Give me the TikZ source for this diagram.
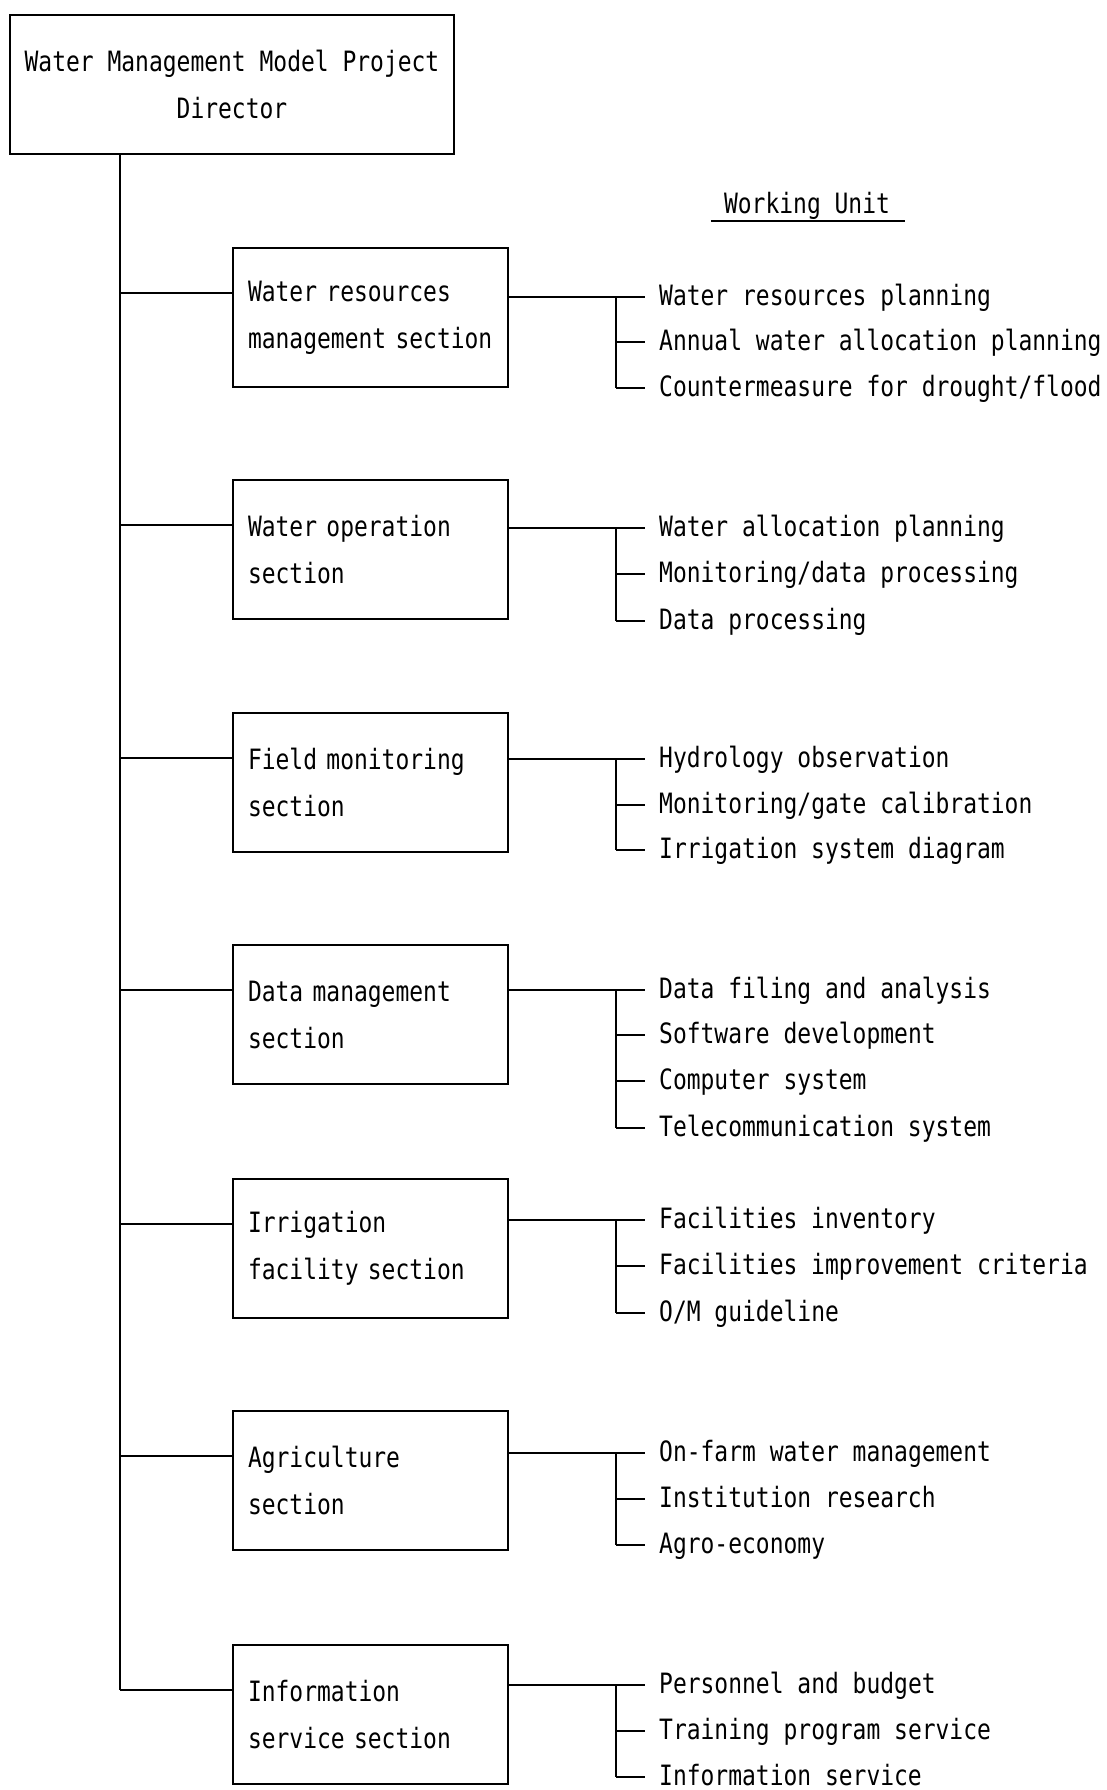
\documentclass[tikz,border=0pt]{standalone}
\usepackage{fontspec}
\newfontfamily\orgfont{DejaVu Sans Mono}[FakeStretch=0.82]
\usetikzlibrary{calc}
\begin{document}
\begin{tikzpicture}[x=1pt,y=-1pt,
  every node/.style={font=\orgfont\fontsize{28}{47}\selectfont},
  dirbox/.style={draw,line width=2pt,minimum width=444pt,minimum height=139pt,anchor=north west,inner sep=0pt,align=center},
  secbox/.style={draw,line width=2pt,minimum width=275pt,minimum height=139pt,anchor=north west,inner ysep=0pt,inner xsep=15pt,text width=245pt,align=left},
  item/.style={anchor=west,inner sep=0pt,text height=20pt,text depth=4pt},
  conn/.style={line width=1.3pt},
  trunkline/.style={line width=1.7pt}]
\useasboundingbox (0,0) rectangle (1106,1790);

\node[dirbox] (dir) at (9,14) {Water Management Model Project\\Director};

\node[anchor=base,inner sep=0pt] (wu) at (807,214) {Working Unit};
\draw[conn] ($(wu.base west)+(-13,7)$) -- ($(wu.base east)+(15,7)$);

% section boxes
\node[secbox] (s1) at (232,247)  {\mbox{Water resources}\\\mbox{management section}};
\node[secbox] (s2) at (232,479)  {\mbox{Water operation}\\\mbox{section}};
\node[secbox] (s3) at (232,712)  {\mbox{Field monitoring}\\\mbox{section}};
\node[secbox] (s4) at (232,944)  {\mbox{Data management}\\\mbox{section}};
\node[secbox] (s5) at (232,1178) {\mbox{Irrigation}\\\mbox{facility section}};
\node[secbox] (s6) at (232,1410) {\mbox{Agriculture}\\\mbox{section}};
\node[secbox] (s7) at (232,1644) {\mbox{Information}\\\mbox{service section}};

% trunk
\coordinate (t0) at ($(dir.south west)+(111,0)$);
\coordinate (t7) at ($(s7.north west)+(-112,46)$);
\draw[trunkline] (t0) -- (t7);
\foreach \k in {1,...,7}{
  \draw[conn] (t0 |- {$(s\k.north west)+(0,46)$}) -- ($(s\k.north west)+(0,46)$);
}

% working units
\node[item] (i11) at (659,297) {Water resources planning};
\node[item] (i12) at (659,342) {Annual water allocation planning};
\node[item] (i13) at (659,388) {Countermeasure for drought/flood};

\node[item] (i21) at (659,528) {Water allocation planning};
\node[item] (i22) at (659,574) {Monitoring/data processing};
\node[item] (i23) at (659,621) {Data processing};

\node[item] (i31) at (659,759) {Hydrology observation};
\node[item] (i32) at (659,805) {Monitoring/gate calibration};
\node[item] (i33) at (659,850) {Irrigation system diagram};

\node[item] (i41) at (659,990)  {Data filing and analysis};
\node[item] (i42) at (659,1035) {Software development};
\node[item] (i43) at (659,1081) {Computer system};
\node[item] (i44) at (659,1128) {Telecommunication system};

\node[item] (i51) at (659,1220) {Facilities inventory};
\node[item] (i52) at (659,1266) {Facilities improvement criteria};
\node[item] (i53) at (659,1313) {O/M guideline};

\node[item] (i61) at (659,1453) {On-farm water management};
\node[item] (i62) at (659,1499) {Institution research};
\node[item] (i63) at (659,1545) {Agro-economy};

\node[item] (i71) at (659,1685) {Personnel and budget};
\node[item] (i72) at (659,1731) {Training program service};
\node[item] (i73) at (659,1777) {Information service};

% brackets
\foreach \k/\last in {1/3,2/3,3/3,4/4,5/3,6/3,7/3}{
  \coordinate (b\k) at ($(i\k1.west)+(-43,0)$);
  \draw[conn] (s\k.east |- b\k) -- (b\k) -- (b\k |- i\k\last.west);
  \foreach \j in {1,...,\last}{
    \draw[conn] (b\k |- i\k\j.west) -- ($(i\k\j.west)+(-14,0)$);
  }
}
\end{tikzpicture}
\end{document}
